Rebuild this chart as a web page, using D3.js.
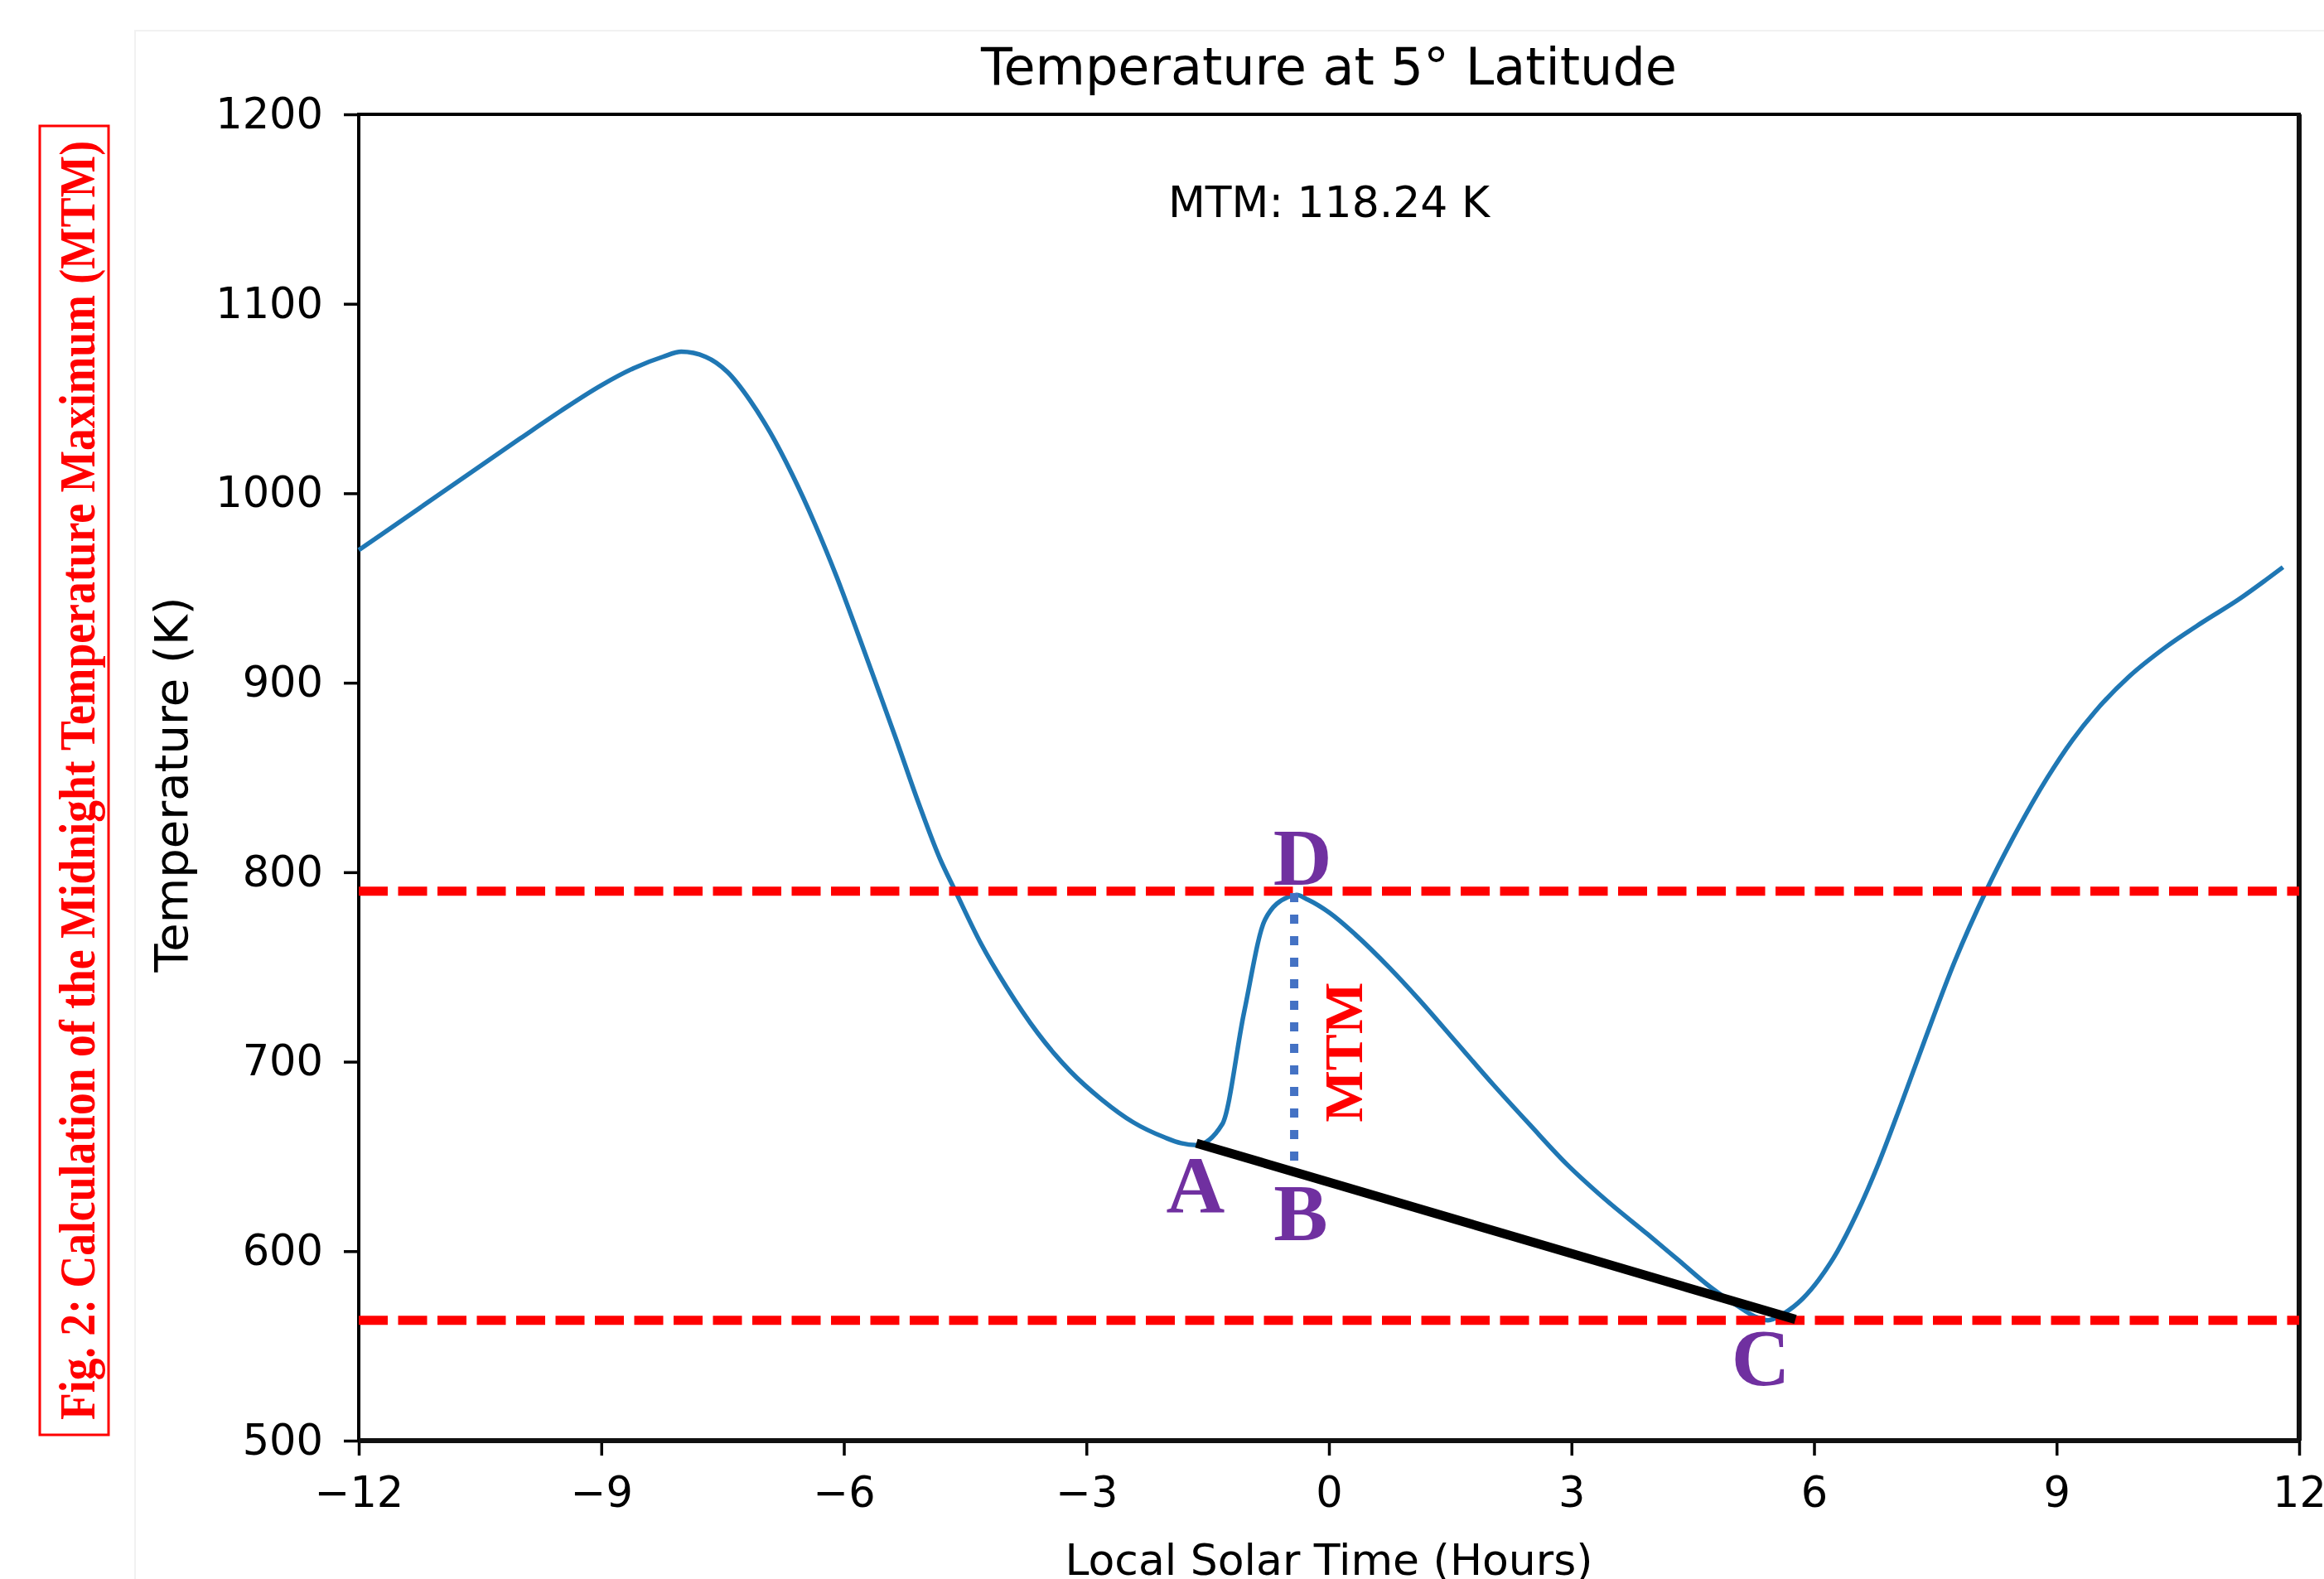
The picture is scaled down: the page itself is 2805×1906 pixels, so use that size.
<!DOCTYPE html>
<html>
<head>
<meta charset="utf-8">
<script src="https://cdn.jsdelivr.net/npm/d3@7"></script>
<style>
  body { margin: 0; background: #fff; }
  svg { display: block; }
  .tick text { font-family: "DejaVu Sans", sans-serif; font-size: 51px; fill: #000; }
</style>
</head>
<body>
<div id="chart"></div>
<script>
// local solar time (h) and temperature (K)
var hours = [-12, -11, -10, -9.5, -9, -8.6, -8.24, -8.01, -7.71, -7.44, -7.16, -6.91, -6.64,
  -6.36, -6.09, -5.81, -5.58, -5.36, -5.08, -4.81, -4.62, -4.3, -3.99, -3.6, -3.2, -2.81,
  -2.42, -2.03, -1.83, -1.64, -1.32, -1.05, -0.79, -0.5, -0.4, -0.26, 0.01, 0.33, 0.75, 1.11,
  1.57, 2.03, 2.49, 2.94, 3.4, 3.94, 4.33, 4.72, 5.04, 5.27, 5.43, 5.62, 5.86, 6.06, 6.29,
  6.53, 6.8, 7.07, 7.36, 7.74, 8.13, 8.51, 8.88, 9.2, 9.48, 9.89, 10.35, 10.8, 11.26, 11.58, 11.8];
var temps = [970, 999.5, 1029, 1043.5, 1057, 1066, 1072, 1074.7, 1072, 1064, 1049, 1032, 1010,
  984, 956, 924, 897, 871, 837, 807, 790, 762, 739.5, 715, 695, 680,
  668, 660, 657, 656, 667, 726, 775, 787, 788, 785.5, 778.5, 767, 749.5, 733,
  710.5, 688, 666.5, 646, 628, 609, 595, 581, 571.5, 565.5, 563.5, 567, 575, 585, 600,
  620, 646.5, 676.7, 710.3, 752.9, 790.3, 822, 849.5, 870, 885, 903, 918.8, 931.8, 944.2, 954, 961];

var xTicks = [-12, -9, -6, -3, 0, 3, 6, 9, 12];
var yTicks = [500, 600, 700, 800, 900, 1000, 1100, 1200];

// reference levels (dashed red) and annotation points
var levels = [790, 563.5];
var pointA = [-1.64, 657];
var pointC = [5.77, 564];
var pointD = [-0.43, 789];
var pointB = [-0.43, 641];
var dottedEnd = 647.5;
var mtmText = "MTM: 118.24 K";

var svgWidth = 2805;
var svgHeight = 1906;
var margin = {top: 138, right: 30, bottom: 167, left: 433};
var width = svgWidth - margin.left - margin.right;
var height = svgHeight - margin.top - margin.bottom;

var svg = d3.select("#chart")
  .append("svg")
  .attr("width", svgWidth)
  .attr("height", svgHeight);

svg.append("rect")
  .attr("x", 163).attr("y", 37)
  .attr("width", svgWidth).attr("height", svgHeight)
  .attr("fill", "none")
  .attr("stroke", "#f1f1f1")
  .attr("stroke-width", 2);

// caption box on the left
svg.append("rect")
  .attr("x", 48).attr("y", 152)
  .attr("width", 83).attr("height", 1580)
  .attr("fill", "none")
  .attr("stroke", "#ff0000")
  .attr("stroke-width", 3);

svg.append("text")
  .attr("transform", "translate(114, 942) rotate(-90)")
  .attr("text-anchor", "middle")
  .attr("font-family", "Liberation Serif, Times New Roman, serif")
  .attr("font-weight", "bold")
  .attr("font-size", 62)
  .attr("fill", "#ff0000")
  .attr("textLength", 1544)
  .attr("lengthAdjust", "spacingAndGlyphs")
  .text("Fig. 2: Calculation of the Midnight Temperature Maximum (MTM)");

var chartGroup = svg.append("g")
  .attr("transform", `translate(${margin.left}, ${margin.top})`);

var xScale = d3.scaleLinear().domain([-12, 12]).range([0, width]);
var yScale = d3.scaleLinear().domain([500, 1200]).range([height, 0]);

var bottomAxis = d3.axisBottom(xScale).tickValues(xTicks).tickSize(18).tickPadding(26)
  .tickFormat(d3.format("d"));
var leftAxis = d3.axisLeft(yScale).tickValues(yTicks).tickSize(18).tickPadding(25)
  .tickFormat(d3.format("d"));

var xAxisG = chartGroup.append("g")
  .attr("transform", `translate(0, ${height})`)
  .call(bottomAxis);
var yAxisG = chartGroup.append("g").call(leftAxis);

[xAxisG, yAxisG].forEach(function(g) {
  g.select(".domain").remove();
  g.selectAll(".tick line").attr("stroke", "#000").attr("stroke-width", 3.5);
});
xAxisG.selectAll(".tick text").attr("dy", "0.71em");

// frame
chartGroup.append("rect")
  .attr("width", width).attr("height", height)
  .attr("fill", "none").attr("stroke", "#000").attr("stroke-width", 4);
chartGroup.append("line")
  .attr("x1", 0).attr("x2", width).attr("y1", height).attr("y2", height)
  .attr("stroke", "#111").attr("stroke-width", 6);
chartGroup.append("line")
  .attr("x1", width).attr("x2", width).attr("y1", 0).attr("y2", height)
  .attr("stroke", "#111").attr("stroke-width", 6);

var series = hours.map(function(h, i) { return {h: h, t: temps[i]}; });

var line = d3.line()
  .x(d => xScale(d.h))
  .y(d => yScale(d.t))
  .curve(d3.curveMonotoneX);

chartGroup.append("path")
  .datum(series)
  .attr("d", line)
  .attr("fill", "none")
  .attr("stroke", "#1f77b4")
  .attr("stroke-width", 5.5)
  .attr("stroke-linejoin", "round");

// dashed red levels
chartGroup.selectAll(".level")
  .data(levels)
  .enter()
  .append("line")
  .attr("class", "level")
  .attr("x1", xScale(-12)).attr("x2", xScale(12))
  .attr("y1", d => yScale(d)).attr("y2", d => yScale(d))
  .attr("stroke", "#ff0000")
  .attr("stroke-width", 11)
  .attr("stroke-dasharray", "35,12.5");

// MTM dotted vertical
chartGroup.append("line")
  .attr("x1", xScale(pointD[0])).attr("x2", xScale(pointD[0]))
  .attr("y1", yScale(pointD[1])).attr("y2", yScale(dottedEnd))
  .attr("stroke", "#4472c4")
  .attr("stroke-width", 10)
  .attr("stroke-dasharray", "11,15");

// black A-C line
chartGroup.append("line")
  .attr("x1", xScale(pointA[0])).attr("y1", yScale(pointA[1]))
  .attr("x2", xScale(pointC[0])).attr("y2", yScale(pointC[1]))
  .attr("stroke", "#000")
  .attr("stroke-width", 11);

var labels = [
  {name: "A", p: pointA, dx: -1, dy: 83},
  {name: "B", p: pointB, dx: 8, dy: 80},
  {name: "C", p: pointC, dx: -42, dy: 79},
  {name: "D", p: pointD, dx: 10, dy: -10}
];

chartGroup.selectAll(".ptlabel")
  .data(labels)
  .enter()
  .append("text")
  .attr("class", "ptlabel")
  .attr("x", d => xScale(d.p[0]) + d.dx)
  .attr("y", d => yScale(d.p[1]) + d.dy)
  .attr("text-anchor", "middle")
  .attr("font-family", "Liberation Serif, Times New Roman, serif")
  .attr("font-weight", "bold")
  .attr("font-size", 98)
  .attr("fill", "#7030a0")
  .text(d => d.name);

chartGroup.append("text")
  .attr("transform", `translate(${xScale(pointD[0]) + 82}, ${yScale(705)}) rotate(-90)`)
  .attr("text-anchor", "middle")
  .attr("font-family", "Liberation Serif, Times New Roman, serif")
  .attr("font-weight", "bold")
  .attr("font-size", 66)
  .attr("fill", "#ff0000")
  .text("MTM");

chartGroup.append("text")
  .attr("x", width / 2)
  .attr("y", 124)
  .attr("text-anchor", "middle")
  .attr("font-family", "DejaVu Sans, sans-serif")
  .attr("font-size", 52)
  .text(mtmText);

chartGroup.append("text")
  .attr("x", width / 2)
  .attr("y", -36)
  .attr("text-anchor", "middle")
  .attr("font-family", "DejaVu Sans, sans-serif")
  .attr("font-size", 62)
  .text("Temperature at 5° Latitude");

chartGroup.append("text")
  .attr("transform", "rotate(-90)")
  .attr("x", -(947 - margin.top))
  .attr("y", 226 - margin.left)
  .attr("text-anchor", "middle")
  .attr("font-family", "DejaVu Sans, sans-serif")
  .attr("font-size", 56)
  .text("Temperature (K)");

chartGroup.append("text")
  .attr("x", width / 2)
  .attr("y", height + 162)
  .attr("text-anchor", "middle")
  .attr("font-family", "DejaVu Sans, sans-serif")
  .attr("font-size", 52)
  .text("Local Solar Time (Hours)");
</script>
</body>
</html>
